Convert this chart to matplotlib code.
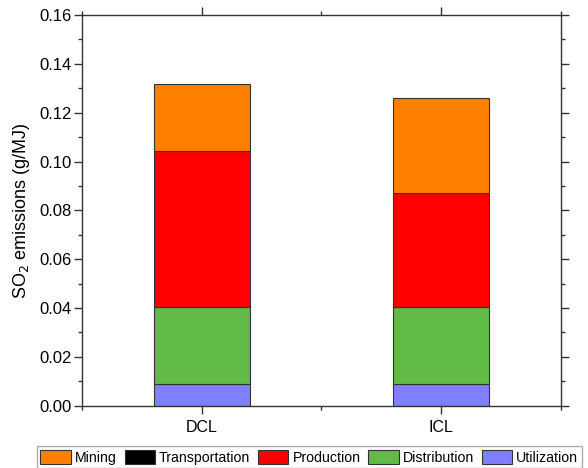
import matplotlib
matplotlib.use("Agg")
import matplotlib.pyplot as plt
from matplotlib.ticker import MultipleLocator

plt.rcParams['font.family'] = ['Liberation Sans', 'DejaVu Sans']

# data (g/MJ)
pathways = ['DCL', 'ICL']
stages = ['Mining', 'Transportation', 'Production', 'Distribution', 'Utilization']
utilization = [0.0088, 0.0088]
distribution = [0.0317, 0.0317]
transportation = [0.0, 0.0]
production = [0.0638, 0.0467]
mining = [0.0273, 0.0389]

colors = {'Mining': '#FF8000', 'Transportation': '#000000',
          'Production': '#FF0000', 'Distribution': '#62BB46',
          'Utilization': '#8080FF'}

fig = plt.figure(figsize=(5.88, 4.68), dpi=100)
ax = fig.add_axes([0.1395, 0.133, 0.814, 0.835])

x = [1, 2]
width = 0.4
stack = [('Utilization', utilization), ('Distribution', distribution),
         ('Transportation', transportation), ('Production', production),
         ('Mining', mining)]
bottom = [0.0, 0.0]
handles = {}
for name, vals in stack:
    bars = ax.bar(x, vals, width, bottom=bottom, color=colors[name],
                  edgecolor='#333333', linewidth=0.8, label=name)
    handles[name] = bars
    bottom = [b + v for b, v in zip(bottom, vals)]

ax.set_xlim(0.5, 2.5)
ax.set_ylim(0, 0.16)
ax.set_xticks(x)
ax.set_xticklabels(pathways)
ax.xaxis.set_minor_locator(MultipleLocator(0.5))
ax.yaxis.set_major_locator(MultipleLocator(0.02))
ax.yaxis.set_minor_locator(MultipleLocator(0.01))
ax.yaxis.set_major_formatter(plt.FormatStrFormatter('%.2f'))
ax.tick_params(which='both', direction='out', top=True, right=True,
               color='#333333')
ax.tick_params(axis='y', labelsize=12, pad=2)
ax.tick_params(axis='x', labelsize=11.5, pad=5)
ax.tick_params(which='major', length=5.5, width=1)
ax.tick_params(which='minor', length=3.2, width=1)
for s in ax.spines.values():
    s.set_color('#333333')
    s.set_linewidth(1)
ax.set_ylabel('SO$_2$ emissions (g/MJ)', fontsize=13, labelpad=5)

fig.legend([handles[s] for s in stages], stages, loc='lower center',
           bbox_to_anchor=(0.526, -0.004), ncol=5, fontsize=10.2,
           frameon=True, fancybox=False, edgecolor='#999999',
           handlelength=2.15, handleheight=1.2, columnspacing=0.55,
           handletextpad=0.28, borderpad=0.25, borderaxespad=0.1)

fig.savefig('out.png', dpi=100)
